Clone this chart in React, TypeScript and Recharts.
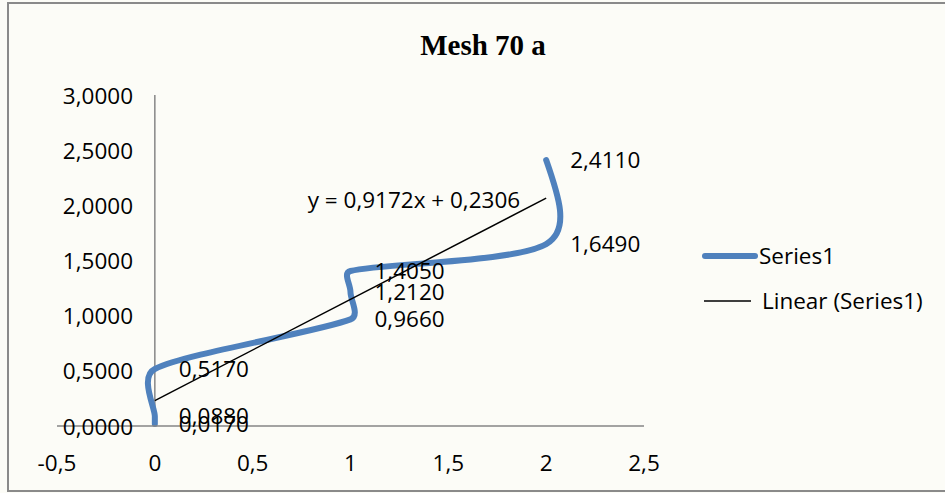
import React from "react";
import { LineChart, Line, XAxis, YAxis, ReferenceLine, LabelList, Legend } from "recharts";

// Mesh 70 a - measured points (x, y)
const xValues = [0, 0, 0, 1, 1, 1, 2, 2];
const yValues = [0.017, 0.088, 0.517, 0.966, 1.212, 1.405, 1.649, 2.411];

// linear trendline y = 0,9172x + 0,2306 (end points)
const trendX = [0, 2];
const trendY = [0.2306, 2.065];
const equation = "y = 0,9172x + 0,2306";

const xTicks = [-0.5, 0, 0.5, 1, 1.5, 2, 2.5];
const yTicks = [0, 0.5, 1, 1.5, 2, 2.5, 3];

const seriesData = xValues.map((x, i) => ({ x, y: yValues[i] }));
const trendData = trendX.map((x, i) => ({ x, y: trendY[i] }));

const FONT = "'Open Sans', sans-serif";
const FS = 22.5;
const BLUE = "#4F81BD";

const comma = (v: number, d: number) => v.toFixed(d).replace(".", ",");
const fmtX = (v: number) => (Number.isInteger(v) ? String(v) : comma(v, 1));

// rough take on excel's smoothed scatter line: cubic bezier, tangent (next - prev),
// control length weighted by neighbouring segment lengths so short steps don't overshoot
const K = 0.42;
function excelSmooth(context: any) {
  let pts: number[][] = [];
  return {
    areaStart() {},
    areaEnd() {},
    lineStart() {
      pts = [];
    },
    point(x: number, y: number) {
      pts.push([+x, +y]);
    },
    lineEnd() {
      const n = pts.length;
      if (!n) return;
      context.moveTo(pts[0][0], pts[0][1]);
      if (n === 1) return;
      const dist = (a: number[], b: number[]) => Math.hypot(b[0] - a[0], b[1] - a[1]);
      const cIn: number[][] = [];
      const cOut: number[][] = [];
      for (let i = 1; i < n - 1; i++) {
        const p0 = pts[i - 1];
        const p1 = pts[i];
        const p2 = pts[i + 1];
        const dIn = dist(p0, p1);
        const dOut = dist(p1, p2);
        const sum = dIn + dOut || 1;
        const tx = p2[0] - p0[0];
        const ty = p2[1] - p0[1];
        const fIn = Math.min(1 / 6, (K * dIn) / sum);
        const fOut = Math.min(1 / 6, (K * dOut) / sum);
        cIn[i] = [p1[0] - tx * fIn, p1[1] - ty * fIn];
        cOut[i] = [p1[0] + tx * fOut, p1[1] + ty * fOut];
      }
      const first = pts[0];
      const last = pts[n - 1];
      cOut[0] = n > 2 ? [(first[0] + cIn[1][0]) / 2, (first[1] + cIn[1][1]) / 2] : [first[0] + (last[0] - first[0]) / 3, first[1] + (last[1] - first[1]) / 3];
      cIn[n - 1] = n > 2 ? [(last[0] + cOut[n - 2][0]) / 2, (last[1] + cOut[n - 2][1]) / 2] : [last[0] - (last[0] - first[0]) / 3, last[1] - (last[1] - first[1]) / 3];
      for (let i = 0; i < n - 1; i++) {
        const a = cOut[i];
        const b = cIn[i + 1];
        const p = pts[i + 1];
        context.bezierCurveTo(a[0], a[1], b[0], b[1], p[0], p[1]);
      }
    },
  };
}

const YTick = (props: any) => {
  const { y, payload } = props;
  return (
    <text x={133} y={y} textAnchor="end" dominantBaseline="central" fontFamily={FONT} fontSize={FS} fill="#000">
      {comma(payload.value, 4)}
    </text>
  );
};

const EquationLabel = (props: any) => {
  const { x, y, index } = props;
  if (index !== trendData.length - 1) return null;
  return (
    <text x={x - 26} y={y + 1} textAnchor="end" dominantBaseline="central" fontFamily={FONT} fontSize={FS} fill="#000">
      {equation}
    </text>
  );
};

const renderLegend = () => (
  <div style={{ fontFamily: FONT, fontSize: FS, color: "#000" }}>
    <div style={{ display: "flex", alignItems: "center", height: 45 }}>
      <svg width={60} height={10}>
        <line x1={6} x2={56} y1={5} y2={5} stroke={BLUE} strokeWidth={6} strokeLinecap="round" />
      </svg>
      <span>Series1</span>
    </div>
    <div style={{ display: "flex", alignItems: "center", height: 45 }}>
      <svg width={63} height={10}>
        <line x1={5} x2={52} y1={5} y2={5} stroke="#000" strokeWidth={1.5} />
      </svg>
      <span>Linear (Series1)</span>
    </div>
  </div>
);

export default function App() {
  return (
    <div style={{ position: "fixed", left: 0, top: 0, width: 945, height: 493, overflow: "hidden", background: "#fcfcf7" }}>
      <div
        style={{
          position: "absolute",
          left: 7,
          top: 2,
          width: 960,
          height: 486,
          border: "2px solid #8a8a8a",
        }}
      />
      <div
        style={{
          position: "absolute",
          left: 483,
          top: 28,
          transform: "translateX(-50%)",
          fontFamily: "'Liberation Serif', serif",
          fontWeight: "bold",
          fontSize: 29,
          lineHeight: "34px",
          whiteSpace: "nowrap",
        }}
      >
        Mesh 70 a
      </div>
      <div style={{ position: "absolute", left: 0, top: 0 }}>
        <LineChart width={945} height={493} margin={{ top: 95, right: 301, bottom: 0, left: 0 }}>
          <XAxis
            type="number"
            dataKey="x"
            domain={[-0.5, 2.5]}
            ticks={xTicks}
            interval={0}
            allowDataOverflow
            height={67}
            tickSize={0}
            tickMargin={29}
            tickFormatter={fmtX}
            axisLine={{ stroke: "#868686", strokeWidth: 1.5 }}
            tickLine={false}
            tick={{ fontFamily: FONT, fontSize: FS, fill: "#000" }}
          />
          <YAxis
            type="number"
            dataKey="y"
            domain={[0, 3]}
            ticks={yTicks}
            interval={0}
            width={57}
            axisLine={false}
            tickLine={false}
            tick={<YTick />}
          />
          <ReferenceLine x={0} stroke="#868686" strokeWidth={1.5} />
          <Line
            data={seriesData}
            dataKey="y"
            type={excelSmooth as any}
            stroke={BLUE}
            strokeWidth={6}
            strokeLinecap="round"
            dot={false}
            activeDot={false}
            isAnimationActive={false}
          >
            <LabelList
              dataKey="y"
              position="right"
              offset={24}
              formatter={(v: any) => comma(Number(v), 4)}
              style={{ fontFamily: FONT, fontSize: FS, fill: "#000" }}
            />
          </Line>
          <Line
            data={trendData}
            dataKey="y"
            type="linear"
            stroke="#000"
            strokeWidth={1.5}
            dot={false}
            activeDot={false}
            isAnimationActive={false}
          >
            <LabelList dataKey="y" content={<EquationLabel />} />
          </Line>
          <Legend
            layout="vertical"
            align="center"
            verticalAlign="middle"
            content={renderLegend}
            wrapperStyle={{ left: 699, top: 233, width: 240 }}
          />
        </LineChart>
      </div>
    </div>
  );
}
